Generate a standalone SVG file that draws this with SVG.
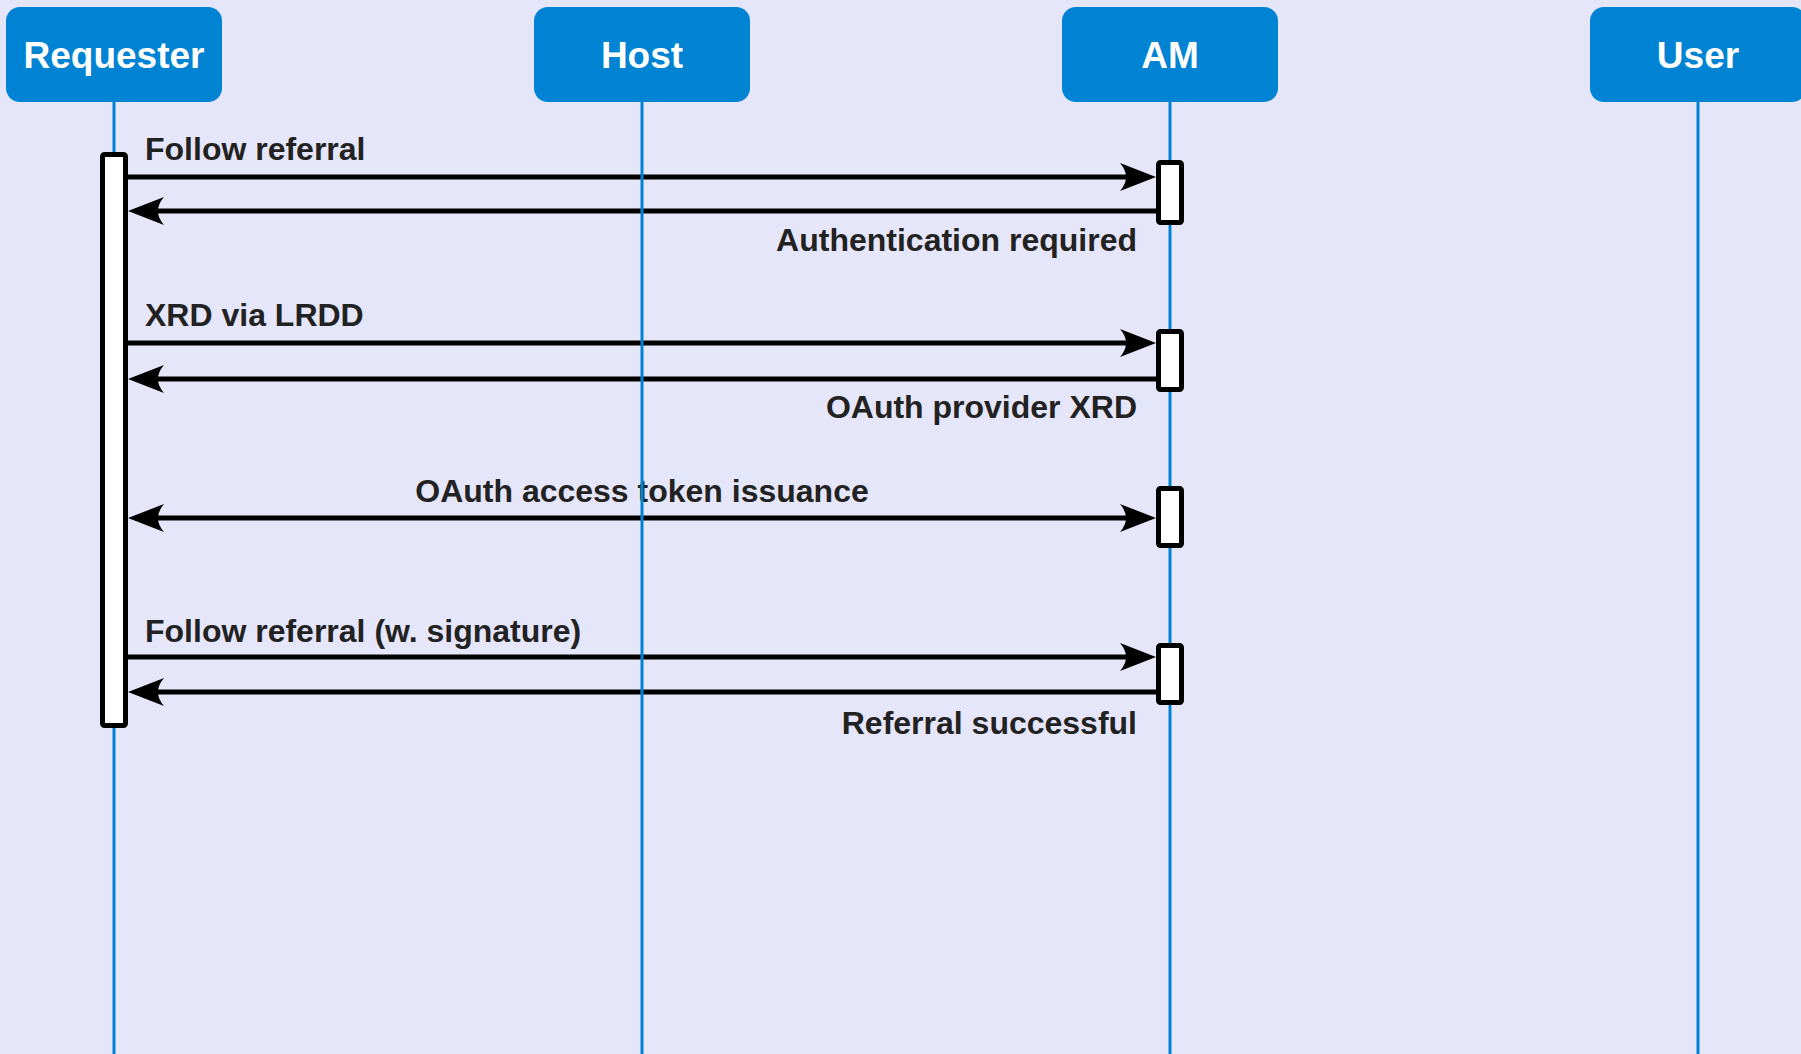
<svg xmlns="http://www.w3.org/2000/svg" width="1801" height="1054" viewBox="0 0 1801 1054">
  <style>
    .box { fill: #0083d3; }
    .name { fill: #ffffff; font-family: "Liberation Sans", Arial, sans-serif; font-weight: bold; font-size: 37px; text-anchor: middle; }
    .life { stroke: #0083d3; stroke-width: 3; fill: none; }
    .act { fill: #ffffff; stroke: #000000; stroke-width: 5; }
    .msg { stroke: #000000; stroke-width: 5; fill: none; marker-end: url(#head); }
    .both { marker-start: url(#head); }
    .lbl { fill: #222222; font-family: "Liberation Sans", Arial, sans-serif; font-weight: bold; font-size: 32px; }
    .end { text-anchor: end; }
    .mid { text-anchor: middle; }
  </style>
  <defs>
    <marker id="head" markerUnits="userSpaceOnUse" viewBox="-40 -20 56 40" refX="0" refY="0" markerWidth="56" markerHeight="40" orient="auto-start-reverse">
      <path d="M12,0 L-24,-14 Q-12,0 -24,14 Z" fill="#000000"/>
    </marker>
  </defs>

  <rect x="0" y="0" width="1801" height="1054" fill="#e6e6fa"/>

  <!-- messages -->
  <g id="connectors">
    <line class="msg" x1="128" y1="177" x2="1144" y2="177"/>
    <line class="msg" x1="1156" y1="211" x2="140" y2="211"/>
    <line class="msg" x1="128" y1="343" x2="1144" y2="343"/>
    <line class="msg" x1="1156" y1="379" x2="140" y2="379"/>
    <line class="msg both" x1="140" y1="518" x2="1144" y2="518"/>
    <line class="msg" x1="128" y1="657" x2="1144" y2="657"/>
    <line class="msg" x1="1156" y1="692" x2="140" y2="692"/>
    <text class="lbl" x="145" y="160">Follow referral</text>
    <text class="lbl end" x="1137" y="251">Authentication required</text>
    <text class="lbl" x="145" y="326">XRD via LRDD</text>
    <text class="lbl end" x="1137" y="418">OAuth provider XRD</text>
    <text class="lbl mid" x="642" y="502">OAuth access token issuance</text>
    <text class="lbl" x="145" y="642">Follow referral (w. signature)</text>
    <text class="lbl end" x="1137" y="734">Referral successful</text>
  </g>

  <!-- participants -->
  <g id="requester">
    <line class="life" x1="114" y1="102" x2="114" y2="1054"/>
    <rect class="box" x="6" y="7" width="216" height="95" rx="14"/>
    <text class="name" x="114" y="68">Requester</text>
    <rect class="act" x="102.5" y="154.5" width="23" height="571" rx="2"/>
  </g>
  <g id="host">
    <line class="life" x1="642" y1="102" x2="642" y2="1054"/>
    <rect class="box" x="534" y="7" width="216" height="95" rx="14"/>
    <text class="name" x="642" y="68">Host</text>
  </g>
  <g id="am">
    <line class="life" x1="1170" y1="102" x2="1170" y2="1054"/>
    <rect class="box" x="1062" y="7" width="216" height="95" rx="14"/>
    <text class="name" x="1170" y="68">AM</text>
    <rect class="act" x="1158.5" y="162.5" width="23" height="60" rx="2"/>
    <rect class="act" x="1158.5" y="331.5" width="23" height="58" rx="2"/>
    <rect class="act" x="1158.5" y="488.5" width="23" height="57" rx="2"/>
    <rect class="act" x="1158.5" y="645.5" width="23" height="57" rx="2"/>
  </g>
  <g id="user">
    <line class="life" x1="1698" y1="102" x2="1698" y2="1054"/>
    <rect class="box" x="1590" y="7" width="216" height="95" rx="14"/>
    <text class="name" x="1698" y="68">User</text>
  </g>
</svg>
